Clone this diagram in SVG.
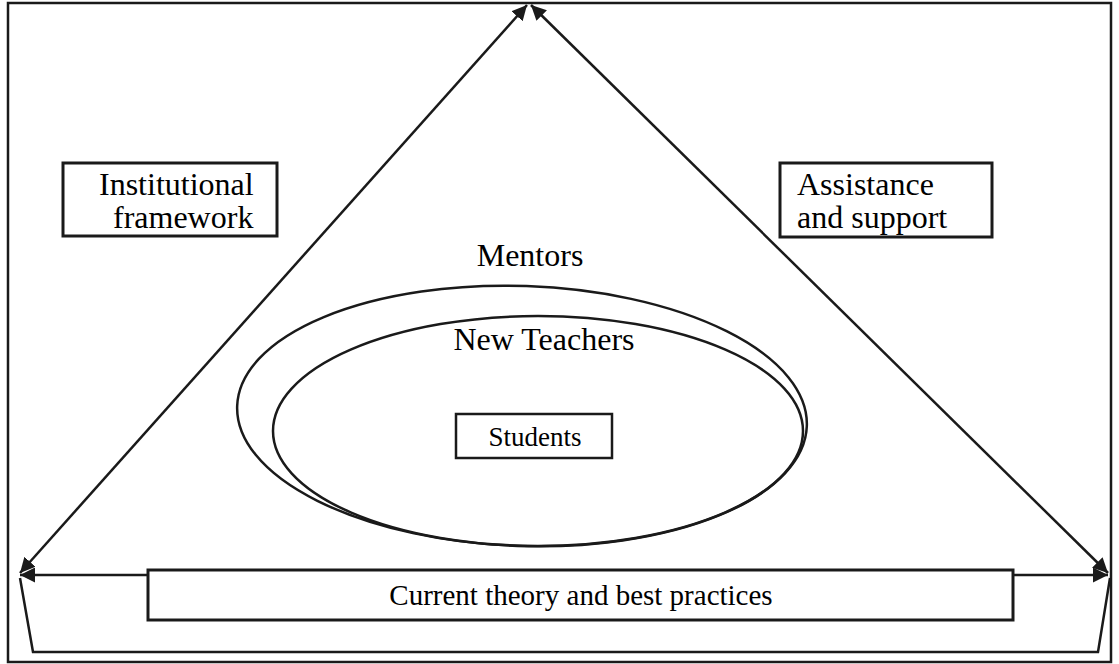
<svg xmlns="http://www.w3.org/2000/svg" width="1119" height="664" viewBox="0 0 1119 664">
<defs>
<style>
.ln{fill:none;stroke:#1a1a1a;stroke-width:2.5}
.bx{fill:#fff;stroke:#1a1a1a;stroke-width:3}
.tx{font-family:"Liberation Serif","Times New Roman",serif;font-size:32px;fill:#000}
</style>
<marker id="ah" viewBox="0 0 10 10" refX="10" refY="5" markerWidth="6" markerHeight="6" orient="auto-start-reverse" markerUnits="strokeWidth">
<path d="M0,0 L10,5 L0,10 z" fill="#1a1a1a"/>
</marker>
</defs>
<rect x="0" y="0" width="1119" height="664" fill="#fff"/>
<rect id="frame" x="8" y="3" width="1103" height="659" fill="none" stroke="#1a1a1a" stroke-width="2.5"/>
<g id="connectors">
<line class="ln" x1="20" y1="573" x2="527" y2="5" marker-start="url(#ah)" marker-end="url(#ah)"/>
<line class="ln" x1="531" y1="5" x2="1108" y2="573" marker-start="url(#ah)" marker-end="url(#ah)"/>
<line class="ln" x1="20" y1="575" x2="1108" y2="575" marker-start="url(#ah)" marker-end="url(#ah)"/>
<polyline class="ln" points="20,578 33,652 1098,652 1110,578"/>
</g>
<g id="mentors">
<ellipse class="ln" cx="522" cy="416" rx="285" ry="130" transform="rotate(2 522 416)"/>
<text class="tx" x="530" y="266" text-anchor="middle">Mentors</text>
</g>
<g id="new-teachers">
<ellipse class="ln" cx="538" cy="431" rx="265" ry="115"/>
<text class="tx" x="544" y="350" text-anchor="middle">New Teachers</text>
</g>
<g id="students">
<rect class="bx" x="456" y="414" width="156" height="44" style="stroke-width:2.5"/>
<text class="tx" x="535" y="446" text-anchor="middle" style="font-size:27px">Students</text>
</g>
<g id="institutional">
<rect class="bx" x="63" y="163" width="214" height="73"/>
<text class="tx" x="99" y="195">Institutional</text>
<text class="tx" x="113" y="228">framework</text>
</g>
<g id="assistance">
<rect class="bx" x="780" y="163" width="212" height="74"/>
<text class="tx" x="797" y="195">Assistance</text>
<text class="tx" x="797" y="228">and support</text>
</g>
<g id="current">
<rect class="bx" x="148" y="570" width="865" height="50"/>
<text class="tx" x="581" y="605" text-anchor="middle" style="font-size:29px">Current theory and best practices</text>
</g>
</svg>
